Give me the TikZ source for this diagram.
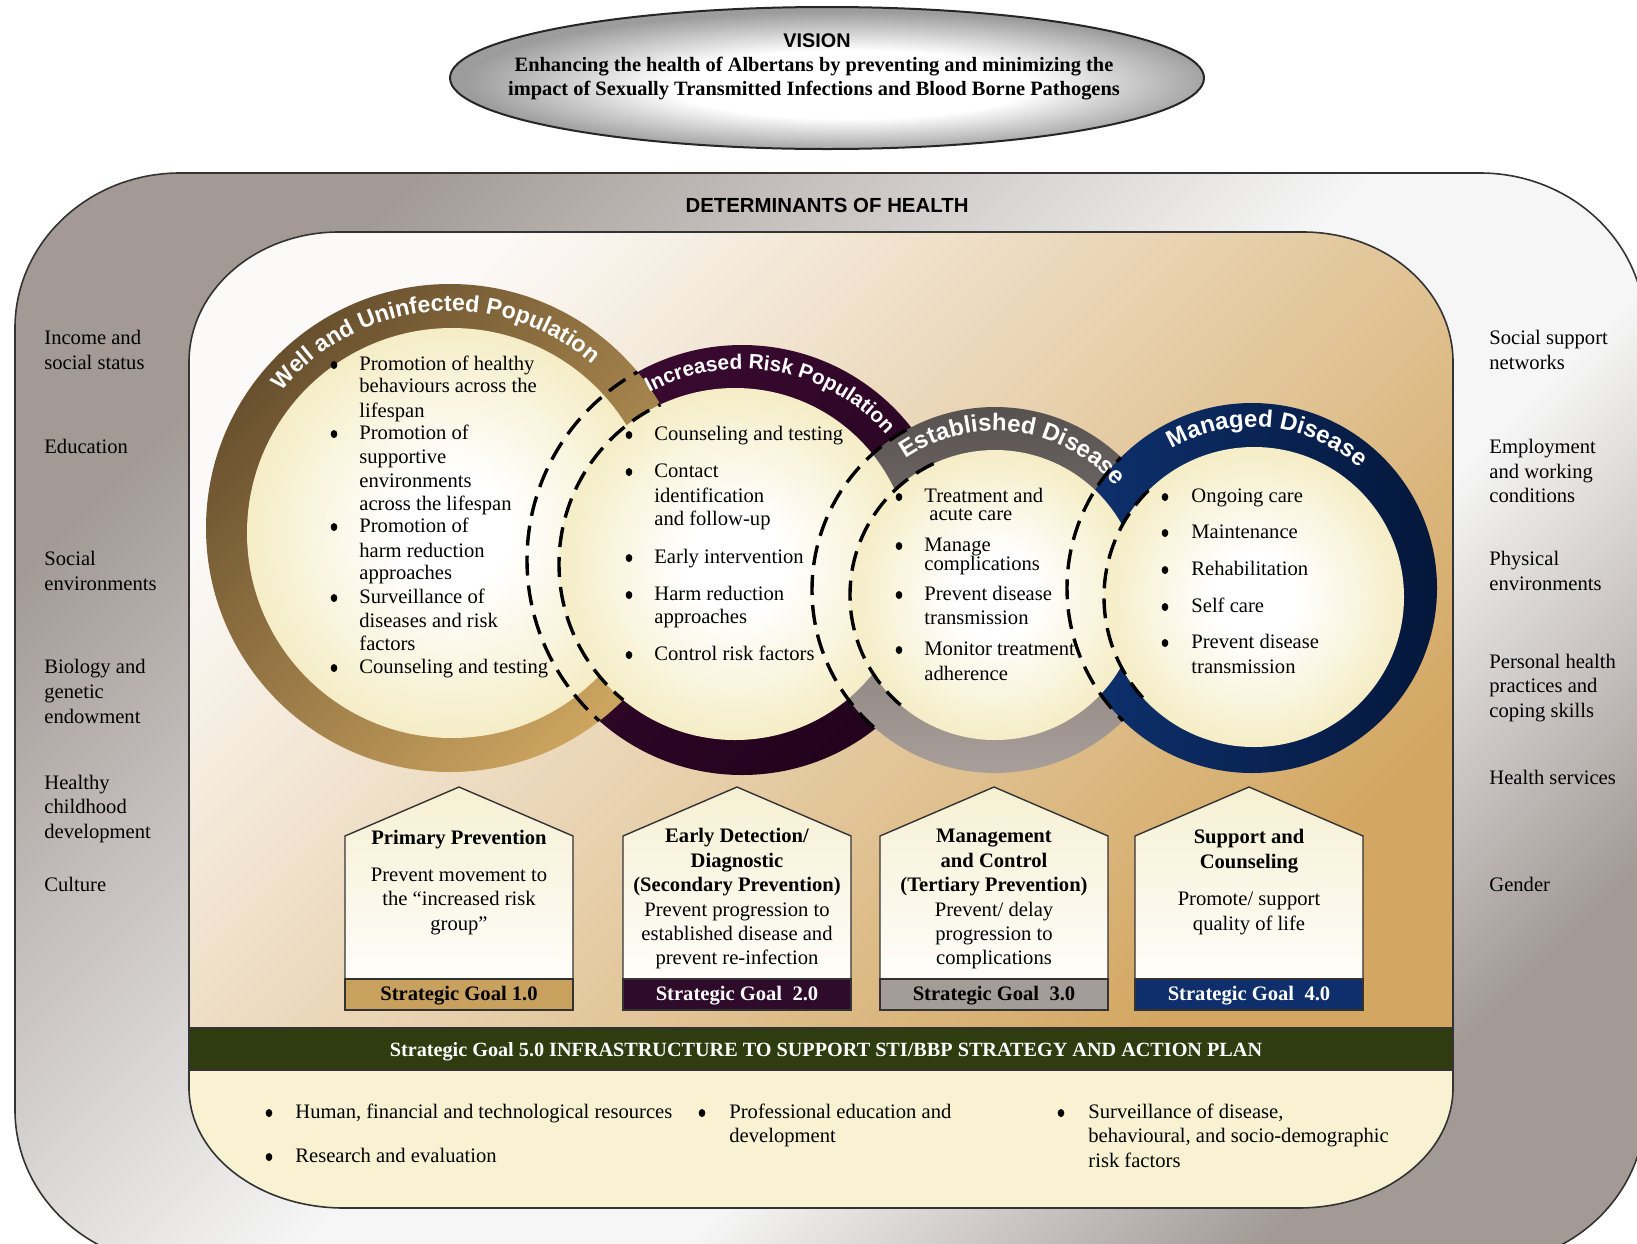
\documentclass[tikz,border=0pt]{standalone}
\usepackage{fontspec}
\setmainfont{Liberation Serif}
\setsansfont{Liberation Sans}
\usetikzlibrary{decorations.text}

\definecolor{frameg}{HTML}{A39A96}
\definecolor{framew}{HTML}{F6F6F6}
\definecolor{innertl}{HTML}{FCFAF8}
\definecolor{innerbr}{HTML}{D3A762}
\definecolor{cream}{HTML}{F5EDC6}
\definecolor{botcream}{HTML}{F8F2D2}
\definecolor{bandgreen}{HTML}{2F3C10}
\definecolor{golddark}{HTML}{68502E}
\definecolor{goldlight}{HTML}{CDA560}
\definecolor{plumtop}{HTML}{3A0A31}
\definecolor{plumbot}{HTML}{22021C}
\definecolor{greytop}{HTML}{575150}
\definecolor{greybot}{HTML}{A99F9A}
\definecolor{navyleft}{HTML}{0E3270}
\definecolor{navyright}{HTML}{04173B}
\definecolor{visgrey}{HTML}{9C9C9C}
\definecolor{bargold}{HTML}{C9A15F}
\definecolor{barplum}{HTML}{2E0A2B}
\definecolor{bargrey}{HTML}{A49C99}
\definecolor{barnavy}{HTML}{0E2F6B}
\definecolor{housetop}{HTML}{F6F0D3}

\pgfdeclareradialshading{creamdisk}{\pgfpoint{0bp}{0bp}}{color(0bp)=(white); color(7bp)=(white); color(25bp)=(cream); color(50bp)=(cream)}
\pgfdeclareradialshading{visionshade}{\pgfpoint{2bp}{-3bp}}{color(0bp)=(white); color(12bp)=(white); color(25bp)=(visgrey); color(50bp)=(visgrey)}
\pgfdeclareverticalshading{frameshade}{100bp}{color(0bp)=(frameg); color(25bp)=(frameg); color(40bp)=(framew); color(50bp)=(framew); color(75bp)=(frameg); color(100bp)=(frameg)}

% house-shaped goal panel: centre x, bar colour, bar text colour, node name, goal text
\newcommand\housebox[5]{%
  \shadedraw[top color=housetop, bottom color=white, draw=black!80, line width=0.7pt]
    (#1-114,1010) -- (#1-114,836) -- (#1,787) -- (#1+114,836) -- (#1+114,1010) -- cycle;
  \filldraw[fill=#2, draw=black!80, line width=0.7pt] (#1-114,979) rectangle (#1+114,1010);
  \node[headc, text=#3] (#4) at (#1,1000) {#5};
}

\begin{document}
\begin{tikzpicture}[x=0.5pt,y=-0.5pt,
  body/.style={font=\fontsize{10.3}{12}\selectfont, inner sep=0pt, anchor=base west},
  bodyc/.style={font=\fontsize{10.3}{12}\selectfont, inner sep=0pt, anchor=base},
  headc/.style={font=\fontsize{10.3}{12}\selectfont\bfseries, inner sep=0pt, anchor=base},
  dashring/.style={line width=1.7pt, dash pattern=on 10pt off 5pt},
  outline/.style={draw=black!80, line width=0.8pt}]
\useasboundingbox (0,0) rectangle (1637,1243);
\fill[white] (0,0) rectangle (1637,1243);

% ---- determinants of health frame
\shadedraw[shading=frameshade, shading angle=45, outline]
  (15,1110) -- (15,328) arc[start angle=180,end angle=270,x radius=165,y radius=155]
  -- (1480,173) arc[start angle=270,end angle=360,x radius=165,y radius=155]
  -- (1645,1110) arc[start angle=0,end angle=90,x radius=165,y radius=155]
  -- (180,1265) arc[start angle=90,end angle=180,x radius=165,y radius=155] -- cycle;

% ---- inner panel
\shadedraw[top color=innertl, bottom color=innerbr, shading angle=45, outline]
  (189,1028) -- (189,362) arc[start angle=180,end angle=270,x radius=150,y radius=130]
  -- (1303,232) arc[start angle=270,end angle=360,x radius=150,y radius=130]
  -- (1453,1028) -- cycle;
\filldraw[fill=botcream, outline]
  (189,1070) -- (189,1088) arc[start angle=180,end angle=90,x radius=155,y radius=120]
  -- (1298,1208) arc[start angle=90,end angle=0,x radius=155,y radius=120]
  -- (1453,1070) -- cycle;
\filldraw[fill=bandgreen, outline] (189,1028) rectangle (1453,1070);

% ---- vision
\shadedraw[shading=visionshade, draw=black!85, line width=1pt]
  (827,78) ellipse[x radius=377, y radius=71];
\node[font=\sffamily\bfseries\fontsize{9.9}{12}\selectfont, inner sep=0pt, anchor=base] (vis) at (817,47) {VISION};
\node[font=\bfseries\fontsize{10.2}{12}\selectfont, inner sep=0pt, anchor=base] (vis1) at (814,71)
  {Enhancing the health of Albertans by preventing and minimizing the};
\node[font=\bfseries\fontsize{10.2}{12}\selectfont, inner sep=0pt, anchor=base] (vis2) at (814,95)
  {impact of Sexually Transmitted Infections and Blood Borne Pathogens};

\node[font=\sffamily\bfseries\fontsize{10.2}{12}\selectfont, inner sep=0pt, anchor=base] (doh) at (827,212)
  {DETERMINANTS OF HEALTH};

% ---- determinants, left and right
\foreach \yy/\txt [count=\i] in {344/Income and, 369/social status, 453/Education, 565/Social,
    590/environments, 673/Biology and, 698/genetic, 723/endowment, 789/Healthy, 813/childhood,
    838/development, 891/Culture}
  \node[body] (detl\i) at (44,\yy) {\txt};
\foreach \yy/\txt [count=\i] in {344/Social support, 369/networks, 453/Employment, 478/and working,
    502/conditions, 565/Physical, 590/environments, 668/Personal health, 692/practices and,
    717/coping skills, 784/Health services, 891/Gender}
  \node[body] (detr\i) at (1489,\yy) {\txt};

% ---- population rings
\shade[top color=plumtop, bottom color=plumbot, shading angle=45] (742,560) circle[radius=215];
\shade[top color=greytop, bottom color=greybot] (995,590) circle[radius=183];
\shade[left color=navyleft, right color=navyright] (1252,588) circle[radius=185];
\shade[top color=golddark, bottom color=goldlight, shading angle=45] (450,528) circle[radius=244];

\shade[shading=creamdisk] (452,533) circle[radius=205];
\shade[shading=creamdisk] (735,564) circle[radius=176];
\shade[shading=creamdisk] (995,595) circle[radius=145];
\shade[shading=creamdisk] (1254,597) circle[radius=150];

% ring titles
\path[decorate, decoration={text along path, text align=center, text color=white,
    text={|\sffamily\bfseries\fontsize{11.6}{12}\selectfont|Well and Uninfected Population}}]
  (450,528) ++(-155:217) arc[start angle=-155, end angle=-35, radius=217];
\path[decorate, decoration={text along path, text align=center, text color=white,
    text={|\sffamily\bfseries\fontsize{10.4}{12}\selectfont|Increased Risk Population}}]
  (742,560) ++(-140:191) arc[start angle=-140, end angle=-20, radius=191];
\path[decorate, decoration={text along path, text align=center, text color=white,
    text={|\sffamily\bfseries\fontsize{12}{12}\selectfont|Established Disease}}]
  (995,590) ++(-142.5:159) arc[start angle=-142.5, end angle=-22.5, radius=159];
\path[decorate, decoration={text along path, text align=center, text color=white,
    text={|\sffamily\bfseries\fontsize{12}{12}\selectfont|Managed Disease}}]
  (1252,588) ++(-144:161) arc[start angle=-144, end angle=-24, radius=161];

% dashed transitions between neighbouring rings
\begin{scope}
  \clip (450,528) circle[radius=244];
  \draw[dashring] (742,560) circle[radius=215] (735,564) circle[radius=176];
\end{scope}
\begin{scope}
  \clip (742,560) circle[radius=215];
  \draw[dashring] (995,590) circle[radius=183] (995,595) circle[radius=145];
\end{scope}
\begin{scope}
  \clip (995,590) circle[radius=183];
  \draw[dashring] (1252,588) circle[radius=185] (1254,597) circle[radius=150];
\end{scope}

% ---- ring contents
\foreach \yy/\txt [count=\i] in {370/Promotion of healthy, 392/behaviours across the, 417/lifespan,
    439/Promotion of, 463/supportive, 487/environments, 510/across the lifespan, 532/Promotion of,
    557/harm reduction, 579/approaches, 603/Surveillance of, 627/diseases and risk, 650/factors,
    673/Counseling and testing}
  \node[body] (wel\i) at (359,\yy) {\txt};
\foreach \yy in {370,439,532,603,673} \fill (334,\yy-5) ellipse[x radius=3.3, y radius=4];

\foreach \yy/\txt [count=\i] in {440/Counseling and testing, 477/Contact, 502/identification,
    525/and follow-up, 563/Early intervention, 600/Harm reduction, 623/approaches,
    660/Control risk factors}
  \node[body] (irp\i) at (654,\yy) {\txt};
\foreach \yy in {440,477,563,600,660} \fill (629,\yy-5) ellipse[x radius=3.3, y radius=4];

\foreach \yy/\txt [count=\i] in {502/Treatment and, 551/Manage, 570/complications, 600/Prevent disease,
    624/transmission, 655/Monitor treatment, 680/adherence}
  \node[body] (est\i) at (924,\yy) {\txt};
\node[body] (est8) at (929,520) {acute care};
\foreach \yy in {502,551,600,655} \fill (899,\yy-5) ellipse[x radius=3.3, y radius=4];

\foreach \yy/\txt [count=\i] in {502/Ongoing care, 538/Maintenance, 575/Rehabilitation, 612/Self care,
    648/Prevent disease, 673/transmission}
  \node[body] (man\i) at (1191,\yy) {\txt};
\foreach \yy in {502,538,575,612,648} \fill (1165,\yy-5) ellipse[x radius=3.3, y radius=4];

% ---- strategic goal panels
\housebox{459}{bargold}{black}{g1}{Strategic Goal 1.0}
\housebox{737}{barplum}{white}{g2}{Strategic Goal~ 2.0}
\housebox{994}{bargrey}{black}{g3}{Strategic Goal~ 3.0}
\housebox{1249}{barnavy}{white}{g4}{Strategic Goal~ 4.0}

\node[headc] (h1a) at (459,844) {Primary Prevention};
\node[bodyc] (h1b) at (459,881) {Prevent movement to};
\node[bodyc] (h1c) at (459,905) {the “increased risk};
\node[bodyc] (h1d) at (459,930) {group”};

\node[headc] (h2a) at (737,842) {Early Detection/};
\node[headc] (h2b) at (737,867) {Diagnostic};
\node[headc] (h2c) at (737,891) {(Secondary Prevention)};
\node[bodyc] (h2d) at (737,916) {Prevent progression to};
\node[bodyc] (h2e) at (737,940) {established disease and};
\node[bodyc] (h2f) at (737,964) {prevent re-infection};

\node[headc] (h3a) at (994,842) {Management};
\node[headc] (h3b) at (994,867) {and Control};
\node[headc] (h3c) at (994,891) {(Tertiary Prevention)};
\node[bodyc] (h3d) at (994,916) {Prevent/ delay};
\node[bodyc] (h3e) at (994,940) {progression to};
\node[bodyc] (h3f) at (994,964) {complications};

\node[headc] (h4a) at (1249,843) {Support and};
\node[headc] (h4b) at (1249,868) {Counseling};
\node[bodyc] (h4c) at (1249,905) {Promote/ support};
\node[bodyc] (h4d) at (1249,930) {quality of life};

% ---- infrastructure goal
\node[headc, text=white, font=\fontsize{10.1}{12}\selectfont\bfseries] (g5) at (826,1056)
  {Strategic Goal 5.0 INFRASTRUCTURE TO SUPPORT STI/BBP STRATEGY AND ACTION PLAN};
\node[body] (inf1) at (295,1118) {Human, financial and technological resources};
\node[body] (inf2) at (295,1162) {Research and evaluation};
\node[body] (inf3) at (729,1118) {Professional education and};
\node[body] (inf4) at (729,1142) {development};
\node[body] (inf5) at (1088,1118) {Surveillance of disease,};
\node[body] (inf6) at (1088,1142) {behavioural, and socio-demographic};
\node[body] (inf7) at (1088,1167) {risk factors};
\foreach \xx/\yy in {269/1118, 269/1162, 702/1118, 1061/1118}
  \fill (\xx,\yy-5) ellipse[x radius=3.3, y radius=4];
\end{tikzpicture}
\end{document}
